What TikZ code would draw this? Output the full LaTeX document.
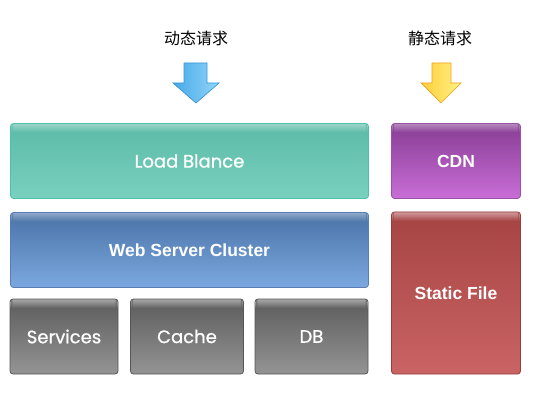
\documentclass[tikz,border=0pt]{standalone}
\usepackage{fontspec}
\setmainfont{Liberation Sans}
\newfontfamily\cjk{Noto Sans CJK SC}
\newfontfamily\geo[FakeBold=0.8]{Poppins}
\usetikzlibrary{positioning}

% 各层颜色（上 / 下 / 边框）
\definecolor{lbTop}{HTML}{5BBBA6}
\definecolor{lbBot}{HTML}{79D0BE}
\definecolor{lbLine}{HTML}{4FC0A9}
\definecolor{webTop}{HTML}{4A73A7}
\definecolor{webBot}{HTML}{7BA8E0}
\definecolor{webLine}{HTML}{5A7DB3}
\definecolor{cdnTop}{HTML}{873D94}
\definecolor{cdnBot}{HTML}{C96DD7}
\definecolor{cdnLine}{HTML}{9A52A8}
\definecolor{stTop}{HTML}{A64343}
\definecolor{stBot}{HTML}{CA6464}
\definecolor{stLine}{HTML}{983C3C}
\definecolor{grTop}{HTML}{5C5C5C}
\definecolor{grBot}{HTML}{949494}
\definecolor{grLine}{HTML}{555555}
\definecolor{arBlueL}{HTML}{45A9E6}
\definecolor{arBlueR}{HTML}{93D6FB}
\definecolor{arBlueLine}{HTML}{3797D6}
\definecolor{arYelL}{HTML}{FFCF3A}
\definecolor{arYelR}{HTML}{FFF184}
\definecolor{arYelLine}{HTML}{EFA020}

\tikzset{
  layer/.style n args={3}{
    rounded corners=3pt, draw=#3, line width=0.8pt,
    top color=#1, bottom color=#2,
    text=white, inner sep=0pt,
    % 顶部高光：逐行变淡的白条
    path picture={
      \foreach \i [evaluate=\i as \op using 0.45*(1-\i/9)] in {0,...,8}
        \fill[white, opacity=\op]
          ([yshift=-\i pt]path picture bounding box.north west) rectangle
          ([yshift=-\i pt-1pt]path picture bounding box.north east);
    }
  },
  thinlabel/.style={font=\geo\fontsize{18}{20}\selectfont},
  boldlabel/.style={font=\bfseries\fontsize{17.5}{20}\selectfont},
  reqlabel/.style={font=\cjk\fontsize{16}{18}\selectfont, text=black}
}

\begin{document}
\begin{tikzpicture}[x=1pt, y=-1pt]

  \useasboundingbox (0,0) rectangle (538,406);

  % ---- 请求标注 ----
  \node[reqlabel] (dyn) at (196,38) {动态请求};
  \node[reqlabel] (sta) at (440,38) {静态请求};

  % 向下箭头：蓝色（动态）
  \shade[left color=arBlueL, right color=arBlueR, draw=arBlueLine, line width=0.7pt]
    (184,63) -- (207,63) -- (207,83) -- (219,83) -- (196,103)
    -- (173,83) -- (184,83) -- cycle;

  % 向下箭头：黄色（静态）
  \shade[left color=arYelL, right color=arYelR, draw=arYelLine, line width=0.7pt]
    (432,63) -- (451,63) -- (451,83) -- (461,83) -- (441,103)
    -- (421,83) -- (432,83) -- cycle;

  % ---- 左列 ----
  \node[layer={lbTop}{lbBot}{lbLine}, thinlabel,
        minimum width=358pt, minimum height=75pt] (lb) at (189.5,161) {Load Blance};
  \node[layer={webTop}{webBot}{webLine}, boldlabel,
        minimum width=358pt, minimum height=75pt] (web) at (189.5,250) {Web Server Cluster};

  % 底层三块
  \node[layer={grTop}{grBot}{grLine}, thinlabel,
        minimum width=108pt, minimum height=75pt] (svc) at (64,336.5) {Services};
  \node[layer={grTop}{grBot}{grLine}, thinlabel,
        minimum width=113pt, minimum height=75pt] (cache) at (187,336.5) {Cache};
  \node[layer={grTop}{grBot}{grLine}, thinlabel,
        minimum width=113pt, minimum height=75pt] (db) at (311.5,336.5) {DB};

  % ---- 右列 ----
  \node[layer={cdnTop}{cdnBot}{cdnLine}, boldlabel,
        minimum width=129pt, minimum height=75pt] (cdn) at (456,161) {CDN};
  \node[layer={stTop}{stBot}{stLine}, boldlabel,
        minimum width=129pt, minimum height=162pt] (st) at (456,293) {Static File};

\end{tikzpicture}
\end{document}
